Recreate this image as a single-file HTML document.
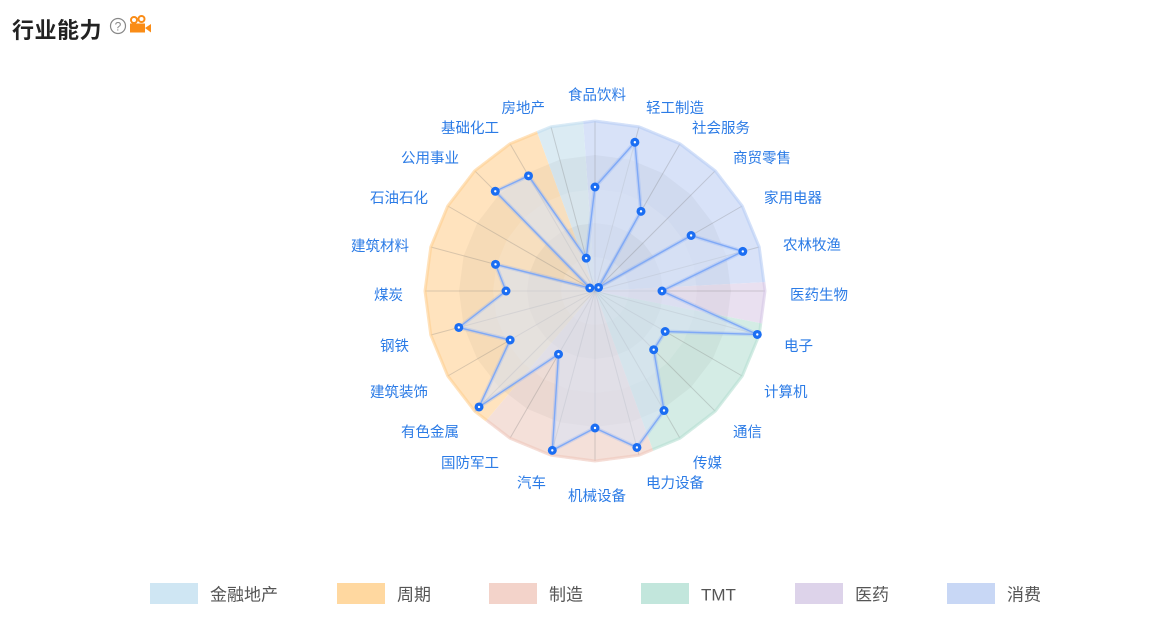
<!DOCTYPE html>
<html><head><meta charset="utf-8">
<style>
html,body{margin:0;padding:0;background:#fff;}
body{width:1156px;height:620px;overflow:hidden;position:relative;font-family:"Liberation Sans","Noto Sans CJK SC",sans-serif;}
.title{position:absolute;left:12px;top:13px;font-size:22px;color:#222;font-weight:600;letter-spacing:0.5px;}
</style></head><body>
<div class="title">行业能力</div>
<svg id="s" width="1156" height="620" style="position:absolute;left:0;top:0" xmlns="http://www.w3.org/2000/svg">
<circle cx="118" cy="26" r="7.5" fill="none" stroke="#888" stroke-width="1.2"/>
<text x="118" y="30.5" font-size="12" fill="#888" text-anchor="middle" font-family="Liberation Sans">?</text>
<circle cx="134" cy="20" r="3" fill="none" stroke="#fa8c16" stroke-width="2"/>
<circle cx="141.5" cy="19" r="3" fill="none" stroke="#fa8c16" stroke-width="2"/>
<rect x="130" y="23.5" width="15" height="9" fill="#fa8c16"/>
<polygon points="145,28 151,24 151,32.5" fill="#fa8c16"/>
</svg>
<script>
var s=document.getElementById('s'),NS='http://www.w3.org/2000/svg';
var cx=595,cy=291,R=170;
function P(a,r){var t=a*Math.PI/180;return [cx+r*Math.sin(t),cy-r*Math.cos(t)];}
function el(n,at,txt){var e=document.createElementNS(NS,n);for(var k in at)e.setAttribute(k,at[k]);if(txt)e.textContent=txt;s.appendChild(e);return e;}
var defs=el('defs',{});
var cp=document.createElementNS(NS,'clipPath');cp.setAttribute('id','c');
var op=[];for(var i=0;i<24;i++){op.push(P(i*15,R).join(','));}
var pg=document.createElementNS(NS,'polygon');pg.setAttribute('points',op.join(' '));cp.appendChild(pg);defs.appendChild(cp);
var g=el('g',{'clip-path':'url(#c)'});
function wedge(a1,a2,fill){var pts=[cx+','+cy];for(var a=a1;a<=a2;a+=1)pts.push(P(a,R+30).join(','));pts.push(P(a2,R+30).join(','));
var e=document.createElementNS(NS,'polygon');e.setAttribute('points',pts.join(' '));e.setAttribute('fill',fill);g.appendChild(e);}
wedge(-4,87,'#d3dff8');
wedge(87,101,'#e6dcee');
wedge(101,160,'#cfeae2');
wedge(160,220,'#f3dcd4');
wedge(220,340,'#ffe0b5');
wedge(340,356,'#d6e9f2');
for(var k=5;k>=1;k--){var pts=[];for(var i=0;i<24;i++)pts.push(P(i*15,R*k/5).join(','));
var e=document.createElementNS(NS,'polygon');e.setAttribute('points',pts.join(' '));e.setAttribute('fill',(k%2==0)?'rgba(0,0,0,0.035)':'rgba(255,255,255,0.12)');g.appendChild(e);}
function ostroke(a1,a2,c){var p=[];for(var a=a1;a<=a2;a+=0.5){
var i=Math.floor(a/15),f=(a-i*15)/15;var A=P(i*15,R),B=P(i*15+15,R);p.push((A[0]+(B[0]-A[0])*f)+','+(A[1]+(B[1]-A[1])*f));}
el('polyline',{points:p.join(' '),fill:'none',stroke:c,'stroke-width':3,'stroke-opacity':0.6});}
for(var i=0;i<24;i++){var q=P(i*15,R);el('line',{x1:cx,y1:cy,x2:q[0],y2:q[1],stroke:'rgba(120,120,120,0.28)','stroke-width':1});}
ostroke(356,360,'#b8cdf5');ostroke(0,87,'#b8cdf5');ostroke(87,101,'#d6c6e6');ostroke(101,160,'#b5e0d2');ostroke(160,220,'#efc7ba');ostroke(220,340,'#ffcf8f');ostroke(340,356,'#c2def0');
var v=[104,154,92,5,111,153,67,168,81,83,138,162,137,165,73,164,98,141,89,103,6,141,133,34];
var dp=[];for(var i=0;i<24;i++)dp.push(P(i*15,v[i]).join(','));
el('polygon',{points:dp.join(' '),fill:'rgba(215,225,245,0.55)',stroke:'rgba(120,165,250,0.25)','stroke-width':4});
el('polygon',{points:dp.join(' '),fill:'none',stroke:'#7fa9f6','stroke-width':1.4});
for(var i=0;i<24;i++){var q=P(i*15,v[i]);el('circle',{cx:q[0],cy:q[1],r:4.5,fill:'#1b6ef3'});el('circle',{cx:q[0],cy:q[1],r:1.2,fill:'#fff'});}
var L=[['食品饮料','middle',597,95],['轻工制造','start',646,108],['社会服务','start',692,128],['商贸零售','start',733,158],['家用电器','start',764,198],['农林牧渔','start',783,245],['医药生物','start',790,295],['电子','start',784,346],['计算机','start',764,392],['通信','start',733,432],['传媒','start',693,463],['电力设备','start',646,483],['机械设备','middle',597,496],['汽车','end',546,483],['国防军工','end',499,463],['有色金属','end',459,432],['建筑装饰','end',428,392],['钢铁','end',409,346],['煤炭','end',403,295],['建筑材料','end',409,246],['石油石化','end',428,198],['公用事业','end',459,158],['基础化工','end',499,128],['房地产','end',545,108]];
L.forEach(function(l){el('text',{x:l[2],y:l[3]+5,'text-anchor':l[1],'font-size':14.5,fill:'#2b7be6'},l[0]);});
var G=[['金融地产',150,'#cfe6f3'],['周期',337,'#ffd8a0'],['制造',489,'#f3d3ca'],['TMT',641,'#c2e6dc'],['医药',795,'#ddd3ea'],['消费',947,'#c8d7f5']];
G.forEach(function(x){el('rect',{x:x[1],y:583,width:48,height:21,fill:x[2]});el('text',{x:x[1]+60,y:600.5,'font-size':17,fill:'#555'},x[0]);});
</script>
</body></html>
